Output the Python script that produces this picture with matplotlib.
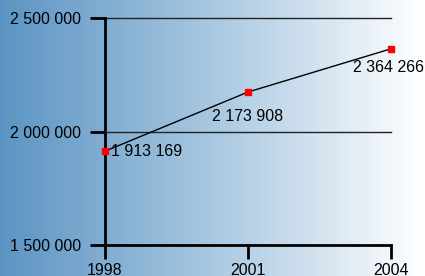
import numpy as np
import matplotlib
matplotlib.use("Agg")
from matplotlib import pyplot as plt
from matplotlib.colors import LinearSegmentedColormap

years = [1998, 2001, 2004]
values = [1913169, 2173908, 2364266]
yticks = [1500000, 2000000, 2500000]

plt.rcParams['font.family'] = ['Liberation Sans', 'DejaVu Sans']


def fmt(v):
    return "{:,}".format(v).replace(",", " ")


fig = plt.figure(figsize=(4.25, 2.76), dpi=100)

# background gradient, steel blue on the left fading to white
bg = fig.add_axes([0, 0, 1, 1])
bg.set_axis_off()
cmap = LinearSegmentedColormap.from_list("bg", ["#5b94c3", "#a9c8e1", "#ffffff"])
grad = np.linspace(0, 1, 256).reshape(1, -1)
bg.imshow(grad, aspect="auto", cmap=cmap, extent=[0, 1, 0, 1])

W, H = 425, 276
left, right, top, bottom = 105, 391, 18, 245
ax = fig.add_axes([left / W, 1 - bottom / H, (right - left) / W, (bottom - top) / H])
ax.patch.set_alpha(0)

ax.set_xlim(1998, 2004)
ax.set_ylim(1500000, 2500000)

for s in ["top", "right"]:
    ax.spines[s].set_visible(False)
for s in ["left", "bottom"]:
    ax.spines[s].set_linewidth(2)
    ax.spines[s].set_color("black")

ax.set_yticks(yticks)
ax.set_yticklabels([fmt(v) for v in yticks])
ax.set_xticks(years)
ax.set_xticklabels([str(y) for y in years])
ax.tick_params(axis="y", length=11, width=2, pad=6, labelsize=11.5)
ax.tick_params(axis="x", length=10, width=2, pad=3, labelsize=11.5)

for v in yticks[1:]:
    ax.axhline(v, color="#222222", lw=1, clip_on=False, zorder=1)

ax.plot(years, values, color="black", lw=1, zorder=2)
ax.plot(years, values, "s", color="red", ms=5, zorder=3, clip_on=False)

ax.annotate(fmt(values[0]), (years[0], values[0]), xytext=(4, 0),
            textcoords="offset points", ha="left", va="center", fontsize=11.5)
ax.annotate(fmt(values[1]), (years[1], values[1]), xytext=(0, -12),
            textcoords="offset points", ha="center", va="top", fontsize=11.5)
ax.annotate(fmt(values[2]), (years[2], values[2]), xytext=(-2, -8),
            textcoords="offset points", ha="center", va="top", fontsize=11.5)

fig.savefig("out.png", dpi=100)
